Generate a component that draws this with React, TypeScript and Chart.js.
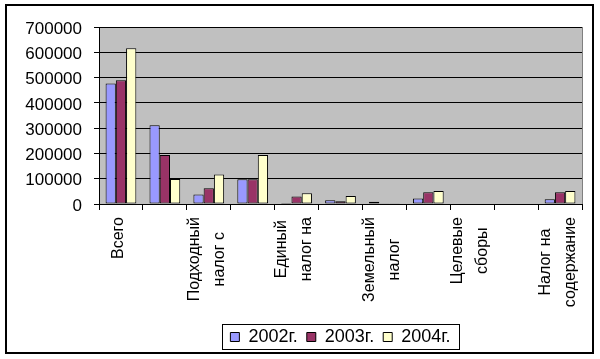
import React, { useEffect, useRef } from "react";
import { Chart, registerables } from "chart.js";

Chart.register(...registerables);

// ---- Data ----
const categoryLines: string[][] = [
  ["Всего"],
  [],
  ["Подходный", "налог с"],
  [],
  ["Единый", "налог на"],
  [],
  ["Земельный", "налог"],
  [],
  ["Целевые", "сборы"],
  [],
  ["Налог на", "содержание"],
];
const categories = categoryLines.map((l) => l.join(" "));

const seriesNames = ["2002г.", "2003г.", "2004г."];
const values2002 = [477000, 311000, 38000, 98000, 4000, 15000, 9000, 22000, 0, 0, 19000];
const values2003 = [489000, 194000, 62000, 98000, 30000, 11000, 3000, 46000, 0, 0, 46000];
const values2004 = [616000, 99000, 117000, 194000, 43000, 32000, 3000, 51000, 0, 0, 51000];

const yMin = 0;
const yMax = 700000;
const yStep = 100000;

const colors = ["#9999FF", "#993366", "#FFFFCC"];
const FONT = '"Liberation Sans", Arial, sans-serif';
const LINE_GAP = 25;

const framePlugin = {
  id: "frame",
  beforeDraw(chart: any) {
    const { ctx, chartArea } = chart;
    ctx.save();
    ctx.fillStyle = "#C0C0C0";
    ctx.fillRect(chartArea.left, chartArea.top, chartArea.right - chartArea.left, chartArea.bottom - chartArea.top);
    ctx.restore();
  },
  afterDraw(chart: any) {
    const { ctx, chartArea } = chart;
    ctx.save();
    // plot area right border
    ctx.strokeStyle = "#808080";
    ctx.lineWidth = 1;
    ctx.beginPath();
    ctx.moveTo(Math.round(chartArea.right) + 0.5, chartArea.top);
    ctx.lineTo(Math.round(chartArea.right) + 0.5, chartArea.bottom);
    ctx.stroke();

    // x category labels (rotated, centered lines)
    const xs = chart.scales.x;
    ctx.font = `16px ${FONT}`;
    ctx.fillStyle = "#000";
    ctx.textAlign = "center";
    ctx.textBaseline = "middle";
    const top = xs.top + 13;
    categoryLines.forEach((lines, i) => {
      if (!lines.length) return;
      const cx = xs.getPixelForTick(i) - 2;
      const maxW = Math.max(...lines.map((l) => ctx.measureText(l).width));
      lines.forEach((line, j) => {
        const x = cx + (j - (lines.length - 1) / 2) * LINE_GAP;
        ctx.save();
        ctx.translate(x, top + maxW / 2);
        ctx.rotate(-Math.PI / 2);
        ctx.fillText(line, 0, 0);
        ctx.restore();
      });
    });

    // legend border
    const lg = chart.legend;
    if (lg && lg.legendHitBoxes && lg.legendHitBoxes.length) {
      const hb = lg.legendHitBoxes;
      const first = hb[0];
      const last = hb[hb.length - 1];
      const left = first.left - 8;
      const right = last.left + last.width + 9;
      const cy = first.top + first.height / 2;
      ctx.strokeStyle = "#000";
      ctx.lineWidth = 1;
      ctx.strokeRect(Math.round(left) + 0.5, Math.round(cy - 13) + 0.5, Math.round(right - left), 25);
    }

    // outer border
    ctx.strokeStyle = "#000";
    ctx.lineWidth = 2;
    ctx.strokeRect(6, 5, 587, 348);
    ctx.restore();
  },
};

export default function App() {
  const ref = useRef<HTMLCanvasElement | null>(null);

  useEffect(() => {
    if (!ref.current) return;
    Chart.defaults.font.family = FONT;
    const data = [values2002, values2003, values2004];
    const chart = new Chart(ref.current, {
      type: "bar",
      data: {
        labels: categories,
        datasets: seriesNames.map((name, i) => ({
          label: name,
          data: data[i],
          backgroundColor: colors[i],
          borderColor: "#000",
          borderWidth: 1,
          borderSkipped: false,
          barPercentage: 1,
          categoryPercentage: 0.7,
        })),
      },
      options: {
        responsive: false,
        animation: false,
        devicePixelRatio: 1,
        layout: { padding: { left: 0, right: 18, top: 27, bottom: 3 } },
        plugins: {
          legend: {
            position: "bottom",
            fullSize: false,
            labels: {
              boxWidth: 9,
              boxHeight: 9,
              padding: 9,
              color: "#000",
              font: { size: 18, family: FONT },
            },
          },
          tooltip: { enabled: false },
          title: { display: false },
        },
        scales: {
          x: {
            grid: {
              drawOnChartArea: false,
              drawTicks: true,
              tickLength: 6,
              color: "#000",
            },
            border: { display: true, color: "#000" },
            ticks: { display: false },
            afterFit: (scale: any) => {
              scale.height = 115;
            },
          },
          y: {
            min: yMin,
            max: yMax,
            grid: { color: "#000", tickLength: 5, drawTicks: true },
            border: { display: true, color: "#000" },
            ticks: {
              stepSize: yStep,
              color: "#000",
              padding: 12,
              labelOffset: 2,
              font: { size: 17, family: FONT },
              callback: (v: any) => String(v),
            },
            afterFit: (scale: any) => {
              scale.width = 99;
            },
          },
        },
      },
      plugins: [framePlugin],
    });
    return () => chart.destroy();
  }, []);

  return (
    <div style={{ position: "fixed", left: 0, top: 0, width: 600, height: 359, background: "#fff" }}>
      <canvas ref={ref} width={600} height={359} style={{ display: "block" }} />
    </div>
  );
}
